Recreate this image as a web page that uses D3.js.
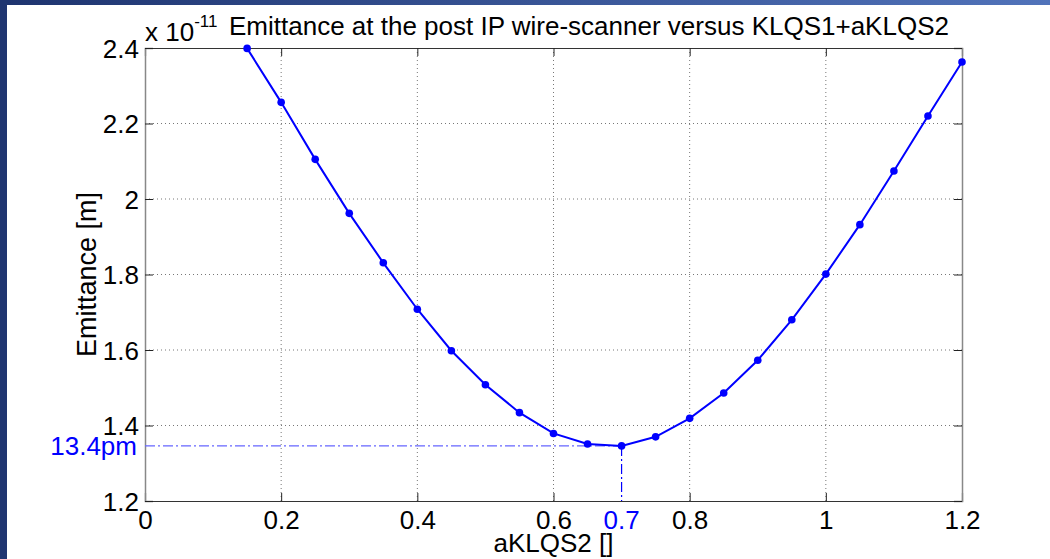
<!DOCTYPE html>
<html>
<head>
<meta charset="utf-8">
<script src="https://cdn.jsdelivr.net/npm/d3@7"></script>
<style>
  body { margin: 0; background: #fff; }
  svg { display: block; font-family: "Liberation Sans", Arial, sans-serif; }
</style>
</head>
<body>
<svg id="chart"></svg>
<script>
// scan values (aKLQS2) and emittance in units of 1e-11 m
const aKLQS2 = [0.15, 0.2, 0.25, 0.3, 0.35, 0.4, 0.45, 0.5, 0.55, 0.6, 0.65, 0.7,
                0.75, 0.8, 0.85, 0.9, 0.95, 1.0, 1.05, 1.1, 1.15, 1.2];
const emittance = [2.399, 2.256, 2.105, 1.962, 1.831, 1.708, 1.598, 1.508, 1.434, 1.379, 1.351, 1.346,
                   1.370, 1.419, 1.486, 1.573, 1.680, 1.801, 1.932, 2.074, 2.220, 2.363];
const xTicks = [0, 0.2, 0.4, 0.6, 0.8, 1, 1.2];
const yTicks = [1.2, 1.4, 1.6, 1.8, 2, 2.2, 2.4];
const minX = 0.7, minY = 1.346, minLabel = "13.4pm";

const W = 1050, H = 559;
const margin = { top: 48, right: 88, bottom: 58, left: 145 };
const width = W - margin.left - margin.right;
const height = H - margin.top - margin.bottom;
const fs = 26;

const svg = d3.select("#chart").attr("width", W).attr("height", H);

// slide frame
const grad = svg.append("defs").append("linearGradient").attr("id", "topbar");
grad.append("stop").attr("offset", "0%").attr("stop-color", "#1e346f");
grad.append("stop").attr("offset", "100%").attr("stop-color", "#5173ba");
svg.append("rect").attr("x", 0).attr("y", 0).attr("width", W).attr("height", 5).attr("fill", "url(#topbar)");
svg.append("rect").attr("x", 0).attr("y", 0).attr("width", 7).attr("height", H).attr("fill", "#1f3570");

const g = svg.append("g").attr("transform", `translate(${margin.left},${margin.top})`);

const x = d3.scaleLinear().domain([0, 1.2]).range([0, width]);
const y = d3.scaleLinear().domain([1.2, 2.4]).range([height, 0]);

// grid
g.append("g").selectAll("line").data(xTicks.slice(1, -1)).join("line")
  .attr("x1", d => x(d)).attr("x2", d => x(d)).attr("y1", 0).attr("y2", height)
  .attr("stroke", "#777").attr("stroke-dasharray", "1,3");
g.append("g").selectAll("line").data(yTicks.slice(1, -1)).join("line")
  .attr("x1", 0).attr("x2", width).attr("y1", d => y(d)).attr("y2", d => y(d))
  .attr("stroke", "#777").attr("stroke-dasharray", "1,3");

// axes with inward ticks on all sides
const axB = g.append("g").attr("transform", `translate(0,${height})`)
  .call(d3.axisBottom(x).tickValues(xTicks).tickSize(-8).tickPadding(10).tickFormat(d3.format("")));
const axT = g.append("g")
  .call(d3.axisTop(x).tickValues(xTicks).tickSize(-8).tickFormat(""));
const axL = g.append("g")
  .call(d3.axisLeft(y).tickValues(yTicks).tickSize(-8).tickPadding(6).tickFormat(d3.format(".1~f")));
const axR = g.append("g").attr("transform", `translate(${width},0)`)
  .call(d3.axisRight(y).tickValues(yTicks).tickSize(-8).tickFormat(""));

[axB, axT, axL, axR].forEach(a => {
  a.selectAll("text").attr("font-size", fs).attr("fill", "#000").attr("font-family", "Liberation Sans, Arial, sans-serif");
  a.selectAll(".tick line").attr("stroke", "#222");
});
axB.select(".domain").attr("stroke", "#333").attr("stroke-width", 1.2);
axT.select(".domain").attr("stroke", "#333").attr("stroke-width", 1.2);
axL.select(".domain").attr("stroke", "#888").attr("stroke-width", 1.5);
axR.select(".domain").attr("stroke", "#888").attr("stroke-width", 1.5);
axB.selectAll("text").attr("dy", "0.71em");
axL.selectAll("text").attr("dy", "0.36em");

// minimum marker lines
g.append("line")
  .attr("x1", 0).attr("x2", x(minX)).attr("y1", y(minY)).attr("y2", y(minY))
  .attr("stroke", "#6666ff").attr("stroke-width", 1.2).attr("stroke-dasharray", "10,3,2,3");
g.append("line")
  .attr("x1", x(minX)).attr("x2", x(minX)).attr("y1", y(minY)).attr("y2", height)
  .attr("stroke", "#0000ff").attr("stroke-width", 1.2).attr("stroke-dasharray", "10,3,2,3");
g.append("text")
  .attr("x", -8).attr("y", y(minY)).attr("dy", "0.36em")
  .attr("text-anchor", "end").attr("font-size", fs).attr("fill", "#0000ff")
  .text(minLabel);
g.append("text")
  .attr("x", x(minX)).attr("y", height + 10).attr("dy", "0.71em")
  .attr("text-anchor", "middle").attr("font-size", fs).attr("fill", "#0000ff")
  .text(minX);

// data line + markers
const pts = aKLQS2.map((v, i) => ({ x: v, y: emittance[i] }));
g.append("path").datum(pts)
  .attr("fill", "none").attr("stroke", "#0000ff").attr("stroke-width", 2)
  .attr("d", d3.line().x(d => x(d.x)).y(d => y(d.y)));
g.append("g").selectAll("circle").data(pts).join("circle")
  .attr("cx", d => x(d.x)).attr("cy", d => y(d.y)).attr("r", 3.8)
  .attr("fill", "#0000ff");

// exponent
const ex = g.append("text").attr("x", 0).attr("y", -7).attr("font-size", fs).attr("fill", "#000");
ex.append("tspan").text("x 10");
ex.append("tspan").attr("dy", -14).attr("font-size", 17).text("-11");

// title
g.append("text")
  .attr("x", 84).attr("y", -13)
  .attr("font-size", fs).attr("fill", "#000")
  .text("Emittance at the post IP wire-scanner versus KLQS1+aKLQS2");

// axis labels
g.append("text")
  .attr("x", width / 2).attr("y", height + 51)
  .attr("text-anchor", "middle").attr("font-size", fs).attr("fill", "#000")
  .text("aKLQS2 []");
g.append("text")
  .attr("transform", "rotate(-90)")
  .attr("x", -y(1.8)).attr("y", -49)
  .attr("text-anchor", "middle").attr("font-size", 27).attr("fill", "#000")
  .text("Emittance [m]");
</script>
</body>
</html>
